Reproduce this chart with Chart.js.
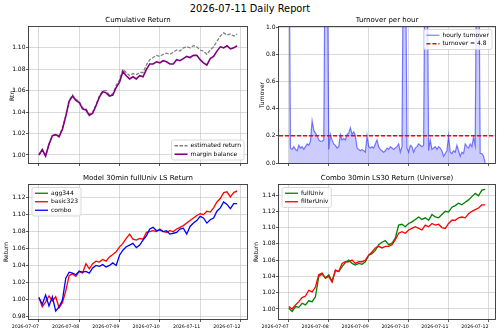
<!DOCTYPE html>
<html>
<head>
<meta charset="utf-8">
<script src="https://cdn.jsdelivr.net/npm/chart.js@4.4.1/dist/chart.umd.min.js"></script>
<style>
  body { margin: 0; background: #fff; }
  #page { position: relative; width: 500px; height: 332px; overflow: hidden; font-family: "DejaVu Sans", sans-serif; }
  #suptitle { position: absolute; left: 0; top: 3px; width: 500px; text-align: center; font-size: 9.8px; line-height: 12px; color: #000; }
  canvas { position: absolute; }
</style>
</head>
<body>
<div id="page">
  <div id="suptitle">2026-07-11 Daily Report</div>
  <canvas id="chart-cum" width="250" height="155" style="left:0;top:16px"></canvas>
  <canvas id="chart-turnover" width="250" height="155" style="left:250px;top:16px"></canvas>
  <canvas id="chart-model" width="250" height="158" style="left:0;top:174px"></canvas>
  <canvas id="chart-universe" width="250" height="158" style="left:250px;top:174px"></canvas>
</div>
<script>
const FONT = '"DejaVu Sans", sans-serif';
const startDay = 7;          // first sample = 2026-07-07 00:00
const returnStep = 2;        // hours between return samples
const turnoverStep = 1;      // hourly turnover
const xMin = -5.9, xMax = 123.9;

// Cumulative Return
const estimatedReturn = [
  1.000, 1.005, 0.999, 1.010, 1.018, 1.019, 1.018, 1.025, 1.037, 1.051,
  1.056, 1.052, 1.050, 1.044, 1.043, 1.038, 1.040, 1.047, 1.055, 1.060,
  1.060, 1.056, 1.057, 1.065, 1.070, 1.080, 1.077, 1.074, 1.076, 1.075,
  1.077, 1.077, 1.084, 1.089, 1.091, 1.093, 1.092, 1.094, 1.095, 1.094,
  1.096, 1.098, 1.097, 1.100, 1.101, 1.100, 1.102, 1.101, 1.098, 1.097,
  1.094, 1.098, 1.101, 1.106, 1.111, 1.114, 1.112, 1.113, 1.111, 1.113
];
const marginBalance = [
  1.000, 1.005, 0.999, 1.010, 1.018, 1.019, 1.017, 1.024, 1.036, 1.050,
  1.055, 1.051, 1.049, 1.043, 1.042, 1.037, 1.039, 1.046, 1.054, 1.059,
  1.058, 1.055, 1.056, 1.063, 1.068, 1.078, 1.074, 1.071, 1.073, 1.071,
  1.074, 1.073, 1.080, 1.085, 1.085, 1.087, 1.086, 1.088, 1.087, 1.085,
  1.085, 1.089, 1.088, 1.090, 1.092, 1.091, 1.093, 1.093, 1.089, 1.086,
  1.084, 1.090, 1.092, 1.097, 1.101, 1.100, 1.102, 1.099, 1.100, 1.102
];

// Turnover per hour
const hourlyTurnover = [
  2.0, 0.11, 0.10, 0.12, 0.10, 0.09, 0.13, 0.11, 0.12, 0.10,
  0.12, 0.14, 0.13, 0.16, 0.31, 0.24, 0.22, 0.20, 0.17, 0.16,
  0.16, 0.17, 1.9, 1.9, 0.10, 0.21, 0.17, 0.14, 0.13, 0.11,
  0.12, 0.21, 0.17, 0.18, 0.17, 0.21, 0.22, 0.26, 0.21, 0.23,
  0.20, 0.11, 0.10, 0.09, 0.10, 0.09, 0.08, 0.20, 0.12, 0.11,
  0.12, 0.11, 0.14, 0.17, 0.12, 0.10, 0.09, 0.08, 0.09, 0.11,
  0.10, 0.12, 0.11, 0.10, 0.11, 0.12, 0.14, 0.08, 0.12, 1.9,
  1.9, 0.11, 0.08, 0.13, 0.12, 0.08, 0.11, 0.12, 0.14, 0.13,
  0.12, 0.13, 1.9, 1.9, 0.09, 0.17, 0.10, 0.11, 0.12, 0.10,
  0.12, 0.11, 0.09, 0.05, 0.07, 0.09, 0.20, 0.08, 0.07, 0.09,
  0.08, 0.13, 0.09, 0.05, 0.08, 0.07, 0.14, 0.12, 0.11, 0.14,
  0.12, 0.19, 0.13, 1.9, 1.9, 0.07, 0.07, 0.05, 0.00
];
const turnoverLimit = 0.2;

// Model 30min fullUniv LS Return
const agg344 = [];
const basic323 = [
  1.002, 0.991, 0.997, 1.004, 0.998, 1.003, 0.990, 0.996, 1.010, 1.028,
  1.030, 1.027, 1.033, 1.031, 1.042, 1.036, 1.042, 1.045, 1.044, 1.047,
  1.045, 1.050, 1.053, 1.056, 1.062, 1.066, 1.072, 1.077, 1.071, 1.070,
  1.072, 1.071, 1.079, 1.080, 1.081, 1.080, 1.083, 1.080, 1.079, 1.081,
  1.080, 1.083, 1.085, 1.087, 1.090, 1.093, 1.096, 1.099, 1.101, 1.100,
  1.104, 1.103, 1.108, 1.115, 1.119, 1.126, 1.127, 1.121, 1.126, 1.128
];
const combo = [
  1.002, 0.994, 1.005, 0.992, 1.003, 0.986, 0.991, 0.999, 1.025, 1.032,
  1.031, 1.029, 1.033, 1.032, 1.033, 1.031, 1.037, 1.040, 1.039, 1.041,
  1.038, 1.040, 1.043, 1.040, 1.052, 1.058, 1.062, 1.064, 1.066, 1.061,
  1.064, 1.070, 1.075, 1.083, 1.085, 1.081, 1.082, 1.080, 1.081, 1.077,
  1.078, 1.079, 1.083, 1.084, 1.077, 1.086, 1.090, 1.093, 1.098, 1.096,
  1.090, 1.094, 1.096, 1.104, 1.108, 1.115, 1.112, 1.107, 1.113, 1.113
];

// Combo 30min LS30 Return (Universe)
const fullUniv = [
  1.001, 0.997, 1.003, 1.002, 1.007, 1.005, 1.010, 1.009, 1.015, 1.040,
  1.043, 1.038, 1.042, 1.034, 1.047, 1.046, 1.052, 1.057, 1.060, 1.056,
  1.054, 1.056, 1.055, 1.058, 1.066, 1.068, 1.072, 1.079, 1.082, 1.084,
  1.079, 1.081, 1.087, 1.103, 1.104, 1.101, 1.105, 1.107, 1.110, 1.113,
  1.110, 1.112, 1.109, 1.116, 1.113, 1.112, 1.116, 1.120, 1.119, 1.125,
  1.127, 1.130, 1.128, 1.131, 1.134, 1.138, 1.142, 1.139, 1.146, 1.147
];
const filterUniv = [
  1.003, 1.000, 1.005, 1.009, 1.014, 1.016, 1.023, 1.021, 1.027, 1.042,
  1.044, 1.038, 1.040, 1.033, 1.048, 1.046, 1.056, 1.058, 1.058, 1.060,
  1.056, 1.058, 1.058, 1.060, 1.066, 1.070, 1.075, 1.077, 1.075, 1.077,
  1.077, 1.079, 1.085, 1.093, 1.095, 1.093, 1.097, 1.099, 1.101, 1.099,
  1.097, 1.103, 1.101, 1.105, 1.103, 1.104, 1.100, 1.099, 1.105, 1.109,
  1.109, 1.112, 1.113, 1.112, 1.117, 1.120, 1.122, 1.124, 1.128, 1.128
];

function toPoints(values, step) {
  return values.map((v, i) => ({x: i * step, y: v}));
}

function dayLabel(v) {
  return '2026-07-' + String(startDay + v / 24).padStart(2, '0');
}

// matplotlib draws a box round the axes
const framePlugin = {
  id: 'frame',
  afterDatasetsDraw(chart) {
    const {ctx, chartArea: a} = chart;
    ctx.save();
    ctx.strokeStyle = '#333';
    ctx.lineWidth = 0.9;
    ctx.strokeRect(Math.round(a.left) - 0.5, Math.round(a.top) - 0.5,
      Math.round(a.right - a.left) + 1, Math.round(a.bottom - a.top) + 1);
    ctx.restore();
  }
};

// legend inside the axes, like loc='lower right' etc.
const legendPlugin = {
  id: 'mplLegend',
  afterDatasetsDraw(chart, args, opts) {
    if (!opts || !opts.loc) return;
    const {ctx, chartArea: a} = chart;
    const items = chart.data.datasets.filter(ds => ds.label);
    const rowH = 8.5, pad = 3, handle = 13;
    ctx.save();
    ctx.font = '6px ' + FONT;
    const textW = Math.max(...items.map(ds => ctx.measureText(ds.label).width));
    const w = pad + handle + pad + textW + pad;
    const h = 3 + rowH * items.length;
    const x = opts.loc.endsWith('right') ? a.right - 3 - w : a.left + 3;
    const y = opts.loc.startsWith('lower') ? a.bottom - 3 - h : a.top + 2.5;
    ctx.beginPath();
    if (ctx.roundRect) ctx.roundRect(x, y, w, h, 2); else ctx.rect(x, y, w, h);
    ctx.fillStyle = 'rgba(255,255,255,0.8)';
    ctx.fill();
    ctx.strokeStyle = '#d0d0d0';
    ctx.lineWidth = 0.8;
    ctx.stroke();
    items.forEach((ds, i) => {
      const cy = y + 1.5 + rowH * (i + 0.5);
      ctx.beginPath();
      ctx.setLineDash(ds.borderDash || []);
      ctx.strokeStyle = ds.borderColor;
      ctx.lineWidth = ds.borderWidth;
      ctx.moveTo(x + pad, cy);
      ctx.lineTo(x + pad + handle, cy);
      ctx.stroke();
      ctx.setLineDash([]);
      ctx.fillStyle = '#000';
      ctx.textAlign = 'left';
      ctx.textBaseline = 'middle';
      ctx.fillText(ds.label, x + pad * 2 + handle, cy);
    });
    ctx.restore();
  }
};

function makeChart(id, cfg) {
  return new Chart(document.getElementById(id), {
    type: 'line',
    data: {datasets: cfg.datasets},
    options: {
      responsive: false,
      animation: false,
      layout: {padding: {right: cfg.padRight}},
      elements: {point: {radius: 0}, line: {tension: 0}},
      plugins: {
        legend: {display: false},
        tooltip: {enabled: false},
        title: {
          display: true, text: cfg.title, fullSize: false, color: '#000',
          font: {family: FONT, size: 7, weight: 'normal', lineHeight: '9px'},
          padding: {top: 0, bottom: 2}
        },
        mplLegend: {loc: cfg.legendLoc}
      },
      scales: {
        x: {
          type: 'linear', min: xMin, max: xMax,
          afterFit: s => { s.height = cfg.xHeight; },
          border: {display: false},
          grid: {color: 'rgba(176,176,176,0.6)', lineWidth: 0.8, tickColor: '#333', tickLength: 3},
          ticks: {
            display: cfg.xLabels, stepSize: 24, includeBounds: false, autoSkip: false,
            maxRotation: 0, align: 'end', padding: 1.5, color: '#000',
            font: {family: FONT, size: 4.7}, callback: dayLabel
          }
        },
        y: {
          min: cfg.yMin, max: cfg.yMax,
          afterFit: s => { s.width = 29; },
          border: {display: false},
          grid: {color: 'rgba(176,176,176,0.6)', lineWidth: 0.8, tickColor: '#333', tickLength: 3},
          title: {
            display: true, text: cfg.yTitle, color: '#000',
            font: {family: FONT, size: 6, lineHeight: '8px'},
            padding: {top: cfg.yTitlePad, bottom: 0}
          },
          ticks: {
            stepSize: cfg.yStep, includeBounds: false, padding: 0.5, color: '#000',
            font: {family: FONT, size: 6},
            callback: v => v.toFixed(cfg.yDigits)
          }
        }
      }
    },
    plugins: [framePlugin, legendPlugin]
  });
}

makeChart('chart-cum', {
  title: 'Cumulative Return', yTitle: 'Rtn.', yTitlePad: 8,
  yMin: 0.9925, yMax: 1.1195, yStep: 0.02, yDigits: 2,
  xLabels: false, xHeight: 8, padRight: 3, legendLoc: 'lower right',
  datasets: [
    {label: 'estimated return', data: toPoints(estimatedReturn, returnStep),
     borderColor: 'gray', borderWidth: 1.3, borderDash: [3.5, 1.5], order: 1},
    {label: 'margin balance', data: toPoints(marginBalance, returnStep),
     borderColor: 'purple', borderWidth: 1.6, order: 0}
  ]
});

makeChart('chart-turnover', {
  title: 'Turnover per hour', yTitle: 'Turnover', yTitlePad: 8,
  yMin: 0, yMax: 1, yStep: 0.2, yDigits: 1,
  xLabels: false, xHeight: 8, padRight: 5, legendLoc: 'upper right',
  datasets: [
    {label: 'hourly turnover', data: toPoints(hourlyTurnover, turnoverStep),
     borderColor: 'rgba(0,0,255,0.5)', borderWidth: 1.2,
     fill: 'origin', backgroundColor: 'rgba(0,0,255,0.2)', order: 1},
    {label: 'turnover = 4.8', data: [{x: xMin, y: turnoverLimit}, {x: xMax, y: turnoverLimit}],
     borderColor: 'red', borderWidth: 1.4, borderDash: [4, 2], order: 0}
  ]
});

makeChart('chart-model', {
  title: 'Model 30min fullUniv LS Return', yTitle: 'Return', yTitlePad: 2.7,
  yMin: 0.9767, yMax: 1.135, yStep: 0.02, yDigits: 2,
  xLabels: true, xHeight: 13, padRight: 3, legendLoc: 'upper left',
  datasets: [
    {label: 'agg344', data: toPoints(agg344, returnStep), borderColor: 'green', borderWidth: 1.3, order: 2},
    {label: 'basic323', data: toPoints(basic323, returnStep), borderColor: 'red', borderWidth: 1.3, order: 1},
    {label: 'combo', data: toPoints(combo, returnStep), borderColor: 'blue', borderWidth: 1.3, order: 0}
  ]
});

makeChart('chart-universe', {
  title: 'Combo 30min LS30 Return (Universe)', yTitle: 'Return', yTitlePad: 2.7,
  yMin: 0.9877, yMax: 1.1523, yStep: 0.02, yDigits: 2,
  xLabels: true, xHeight: 13, padRight: 5, legendLoc: 'upper left',
  datasets: [
    {label: 'fullUniv', data: toPoints(fullUniv, returnStep), borderColor: 'green', borderWidth: 1.3, order: 1},
    {label: 'filterUniv', data: toPoints(filterUniv, returnStep), borderColor: 'red', borderWidth: 1.3, order: 0}
  ]
});
</script>
</body>
</html>
